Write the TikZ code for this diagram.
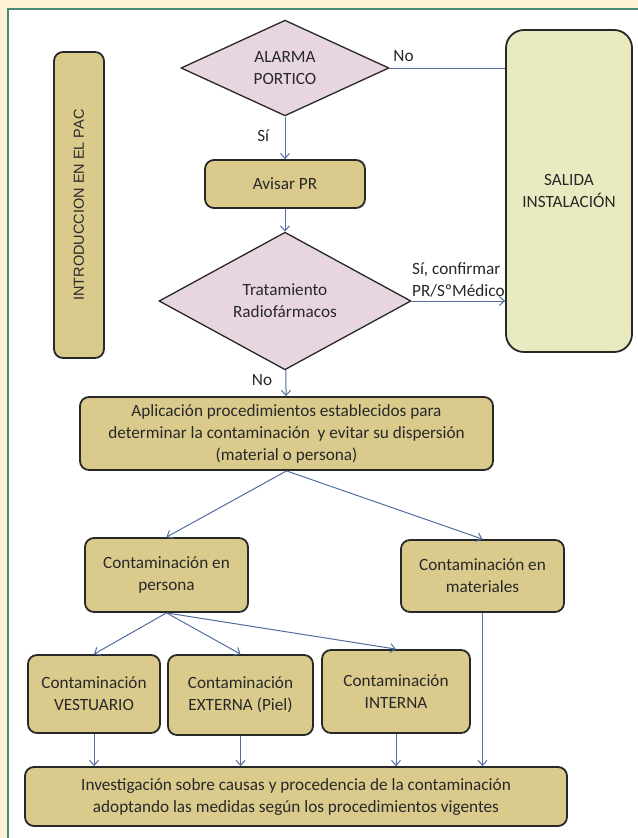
\documentclass[tikz,border=0pt]{standalone}
\usepackage{fontspec}
\setmainfont{Carlito}
\newfontfamily\arialfont{Liberation Sans}
\usetikzlibrary{shapes.geometric, arrows.meta}

\definecolor{cream}{RGB}{255,242,214}
\definecolor{framegreen}{RGB}{72,140,112}
\definecolor{boxtan}{RGB}{218,203,141}
\definecolor{exitfill}{RGB}{234,234,193}
\definecolor{decfill}{RGB}{231,214,224}
\definecolor{arrowblue}{RGB}{82,110,158}
\definecolor{inkgray}{RGB}{40,40,40}

\tikzset{
    procbox/.style={draw=inkgray, line width=1.8bp, fill=boxtan, rounded corners=9bp,
        align=center, text=inkgray, inner sep=0pt},
    decbox/.style={diamond, draw=inkgray, line width=1.3bp, fill=decfill,
        align=center, text=inkgray, inner sep=0pt},
    flow/.style={arrowblue, line width=1bp, -{Straight Barb[length=5bp, width=9bp]}},
    flowlabel/.style={text=inkgray},
}

\begin{document}
\begin{tikzpicture}[x=1bp, y=-1bp, font=\fontsize{17.2bp}{22bp}\selectfont]
    \useasboundingbox (0,0) rectangle (638,838);
    \fill[cream] (0,0) rectangle (638,838);
    \fill[white] (8,9) rectangle (638,838);
    \draw[framegreen, line width=1.2bp] (8,838) -- (8,9) -- (638,9);

    \node[procbox, rotate=90, minimum width=306bp, minimum height=50bp,
        font=\arialfont\fontsize{14.5bp}{17bp}\selectfont] (pac) at (79,205) {INTRODUCCION EN EL PAC};
    \node[procbox, fill=exitfill, rounded corners=18bp, minimum width=126bp, minimum height=322bp] (salida) at (569,191) {SALIDA\\INSTALACIÓN};

    \node[decbox, minimum width=208bp, minimum height=78bp] (alarma) at (285,68) {ALARMA\\PORTICO};
    \node[procbox, minimum width=160bp, minimum height=48bp] (avisar) at (285,184) {Avisar PR};
    \node[decbox, minimum width=252bp, minimum height=102bp] (trat) at (285,301) {Tratamiento\\Radiofármacos};
    \node[procbox, minimum width=413bp, minimum height=73bp] (aplic) at (286.5,433.5) {Aplicación procedimientos establecidos para\\determinar la contaminación \ y evitar su dispersión\\(material o persona)};

    \node[procbox, minimum width=163bp, minimum height=74bp] (persona) at (166.5,575) {Contaminación en\\persona};
    \node[procbox, minimum width=163bp, minimum height=72bp] (materiales) at (482.5,576) {Contaminación en\\materiales};

    \node[procbox, minimum width=132bp, minimum height=78bp] (vestuario) at (94,694) {Contaminación\\VESTUARIO};
    \node[procbox, minimum width=145bp, minimum height=80bp] (externa) at (240.5,695) {Contaminación\\EXTERNA (Piel)};
    \node[procbox, minimum width=148bp, minimum height=83bp] (interna) at (396,691.5) {Contaminación\\INTERNA};

    \node[procbox, minimum width=542bp, minimum height=59bp] (invest) at (296,796.5) {Investigación sobre causas y procedencia de la contaminación\\adoptando las medidas según los procedimientos vigentes};

    % decisiones
    \draw[arrowblue, line width=1bp] (alarma.east) -- (alarma.east -| salida.west) node[flowlabel, pos=0.12, above=3bp]{No};
    \draw[flow] (alarma) -- (avisar) node[flowlabel, pos=0.45, left=12bp]{Sí};
    \draw[flow] (avisar) -- (trat);
    \draw[flow] (trat.east) -- (trat.east -| salida.west) node[flowlabel, midway, above=0bp, align=left]{Sí, confirmar\\PR/SºMédico};
    \draw[flow] (trat) -- (aplic) node[flowlabel, pos=0.4, left=10bp]{No};

    % ramas
    \draw[flow] (aplic.south) -- (persona.north);
    \draw[flow] (aplic.south) -- (materiales.north);
    \draw[flow] (persona.south) -- (vestuario.north);
    \draw[flow] (persona.south) -- (externa.north);
    \draw[flow] (persona.south) -- (interna.north);

    % hacia la investigacion
    \draw[flow] (vestuario.south) -- (vestuario.south |- invest.north);
    \draw[flow] (externa.south) -- (externa.south |- invest.north);
    \draw[flow] (interna.south) -- (interna.south |- invest.north);
    \draw[flow] (materiales.south) -- (materiales.south |- invest.north);
\end{tikzpicture}
\end{document}
